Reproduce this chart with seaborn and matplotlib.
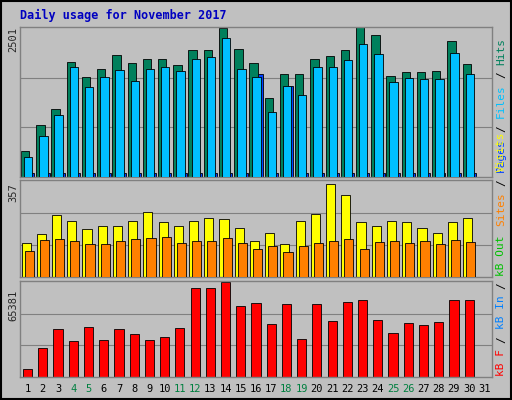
import matplotlib
matplotlib.use("Agg")
import matplotlib.pyplot as plt
import seaborn as sns
import numpy as np

days = list(range(1, 32))
weekends = [4, 5, 11, 12, 18, 19, 25, 26]
hits = [445, 874, 1148, 1936, 1679, 1816, 2056, 1919, 1987, 1987, 1884, 2141, 2141, 2501, 2158, 1919, 1336, 1730, 1730, 1987, 2038, 2141, 2518, 2398, 1696, 1764, 1764, 1782, 2296, 1902, 0]
files = [343, 685, 1045, 1850, 1508, 1679, 1799, 1610, 1816, 1850, 1782, 1987, 2021, 2347, 1816, 1679, 1096, 1525, 1388, 1850, 1850, 1970, 2244, 2073, 1593, 1662, 1645, 1645, 2090, 1730, 0]
pages = [60, 60, 60, 60, 60, 60, 60, 60, 60, 60, 60, 60, 60, 60, 60, 1730, 60, 1525, 60, 60, 60, 60, 60, 60, 60, 60, 60, 60, 60, 60, 0]
visits = [128, 161, 229, 210, 180, 191, 191, 210, 240, 203, 188, 210, 218, 214, 184, 135, 165, 124, 210, 236, 346, 304, 203, 191, 210, 203, 184, 165, 203, 218, 0]
sites = [98, 139, 143, 135, 124, 124, 135, 143, 146, 150, 128, 135, 135, 146, 128, 105, 116, 94, 116, 128, 135, 143, 105, 131, 135, 128, 135, 124, 139, 131, 0]
kbin = [5686, 19898, 32690, 24873, 34112, 25584, 32690, 29847, 25584, 27716, 33401, 61123, 61123, 65381, 49035, 51167, 36244, 50456, 26295, 50456, 38375, 51878, 53300, 39086, 30558, 36955, 35533, 37665, 53300, 53300, 0]

sns.set_style("white")
plt.rcParams['font.family'] = ['DejaVu Sans Mono', 'DejaVu Sans']
BG = "#c0c0c0"
fig = plt.figure(figsize=(5.12, 4.0), dpi=100, facecolor=BG)
W, H = 512, 400

def axes_px(x0, y0, x1, y1):
    return fig.add_axes([x0 / W, 1 - y1 / H, (x1 - x0) / W, (y1 - y0) / H])

x = np.array(days)
def style(ax, ymax):
    ax.set_facecolor(BG)
    ax.set_xlim(0.5, 31.5)
    ax.set_ylim(0, ymax * 1.01)
    for v in (ymax / 3, 2 * ymax / 3):
        ax.axhline(v, color="#808080", lw=0.8, zorder=0)
    ax.set_xticks([]); ax.set_yticks([])
    for s in ax.spines.values():
        s.set_color("#808080"); s.set_linewidth(1)

ax1 = axes_px(20, 27, 492, 177)
ax1.bar(x - 0.16, hits, width=0.55, color="#00805c", edgecolor="black", lw=0.6, zorder=2)
ax1.bar(x + 0.04, files, width=0.55, color="#00c0ff", edgecolor="black", lw=0.6, zorder=3)
ax1.bar(x + 0.22, pages, width=0.45, color="#0040ff", edgecolor="black", lw=0.6, zorder=1)
style(ax1, 2501)

ax2 = axes_px(20, 180, 492, 277)
ax2.bar(x - 0.1, visits, width=0.6, color="#ffff00", edgecolor="black", lw=0.6, zorder=2)
ax2.bar(x + 0.1, sites, width=0.6, color="#ff8000", edgecolor="black", lw=0.6, zorder=3)
style(ax2, 357)

ax3 = axes_px(20, 281, 492, 377)
ax3.bar(x, kbin, width=0.6, color="#ff0000", edgecolor="black", lw=0.6, zorder=2)
style(ax3, 65381)

for d in days:
    fig.text((20 + (d - 0.5) * 472 / 31) / W, 1 - 389 / H, str(d), ha="center", va="center",
             fontsize=7.5, color="#008040" if d in weekends else "black")

fig.text(20 / W, 1 - 15 / H, "Daily usage for November 2017", color="#0000c0",
         fontsize=8.5, fontweight="bold", va="center")
for lbl, yp in (("2501", 40), ("357", 193), ("65381", 305)):
    fig.text(13 / W, 1 - yp / H, lbl, rotation=90, fontsize=7.5, ha="center", va="center")

FS = 8
def vlabel(pieces, ybottom, xp=501):
    cw = FS * 0.602 * 100 / 72
    y = ybottom
    for txt, col in pieces:
        s = txt.strip()
        lead = len(txt) - len(txt.lstrip())
        fig.text(xp / W, 1 - (y - lead * cw) / H, s, rotation=90, color=col, fontsize=FS,
                 ha="center", va="bottom")
        y -= len(txt) * cw

vlabel([("Pages", "#0040ff"), (" / ", "black"), ("Files", "#00c0ff"), (" / ", "black"), ("Hits", "#00805c")], 172)
vlabel([("Sites", "#ff8000"), (" / ", "black"), ("Visits", "#ffff00")], 226)
vlabel([("kB F", "#ff0000"), (" / ", "black"), ("kB In", "#0080ff"), (" / ", "black"), ("kB Out", "#00c000")], 376)

fig.add_artist(plt.Rectangle((0.002, 0.002), 0.996, 0.996, transform=fig.transFigure,
                             fill=False, edgecolor="black", lw=1.5))
fig.savefig("out.png", dpi=100, facecolor=BG)
